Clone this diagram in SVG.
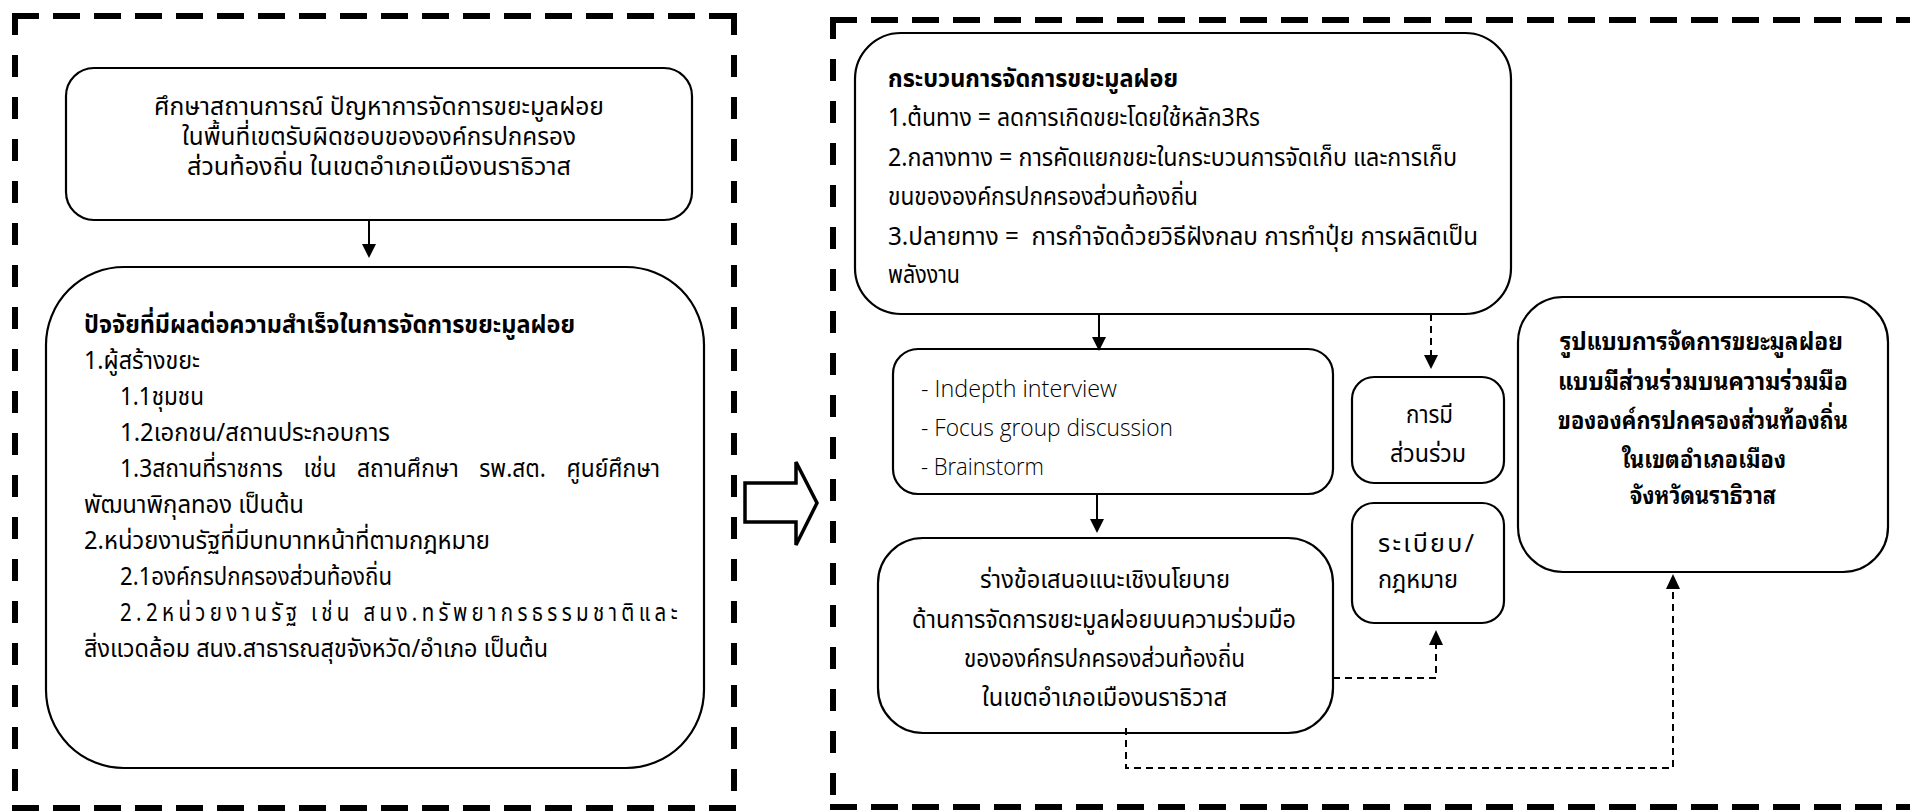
<svg xmlns="http://www.w3.org/2000/svg" width="1910" height="811" viewBox="0 0 1910 811">
<style>
.frameH{stroke:#000;stroke-width:6;fill:none;stroke-dasharray:27 14}
.frameV{stroke:#000;stroke-width:6;fill:none;stroke-dasharray:22 20}
.box{fill:#fff;stroke:#000;stroke-width:2.2}
.th{font-family:"Noto Sans Thai","Noto Sans Thai UI","Garuda","Loma","Noto Sans","DejaVu Sans",sans-serif;font-size:25px;fill:#000}
.thb{font-family:"Noto Sans Thai","Noto Sans Thai UI","Garuda","Loma","Noto Sans","DejaVu Sans",sans-serif;font-size:25px;font-weight:bold;fill:#000}
.thl{font-family:"Noto Sans Thai Looped","Noto Sans Thai","Loma","Garuda","Noto Sans",sans-serif;font-size:24px;font-weight:bold;fill:#000}
.en{font-family:"Open Sans","Noto Sans","Liberation Sans",sans-serif;font-size:23px;font-weight:300;fill:#000}
.solid{stroke:#000;stroke-width:2;fill:none}
.dash{stroke:#000;stroke-width:2;fill:none;stroke-dasharray:7 5}
.head{fill:#000}
</style>
<rect width="1910" height="811" fill="#fff"/>
<g id="frames">
<line class="frameH" x1="12" y1="16" x2="737" y2="16"/>
<line class="frameV" x1="15" y1="13" x2="15" y2="811"/>
<line class="frameV" x1="734" y1="13" x2="734" y2="811"/>
<line class="frameH" x1="12" y1="808" x2="737" y2="808"/>
<line class="frameH" x1="830" y1="20" x2="1910" y2="20"/>
<line class="frameV" x1="833" y1="17" x2="833" y2="811"/>
<line class="frameH" x1="830" y1="807" x2="1910" y2="807"/>
</g>
<g id="n1">
<rect class="box" x="66" y="68" width="626" height="152" rx="28"/>
<text class="th" x="154" y="115" textLength="450" lengthAdjust="spacingAndGlyphs">ศึกษาสถานการณ์ ปัญหาการจัดการขยะมูลฝอย</text>
<text class="th" x="182" y="145" textLength="394" lengthAdjust="spacingAndGlyphs">ในพื้นที่เขตรับผิดชอบขององค์กรปกครอง</text>
<text class="th" x="187" y="175" textLength="384" lengthAdjust="spacingAndGlyphs">ส่วนท้องถิ่น ในเขตอำเภอเมืองนราธิวาส</text>
</g>
<g id="n2">
<rect class="box" x="46" y="267" width="658" height="501" rx="78"/>
<text class="thb" x="84" y="333" textLength="491" lengthAdjust="spacingAndGlyphs">ปัจจัยที่มีผลต่อความสำเร็จในการจัดการขยะมูลฝอย</text>
<text class="th" x="84" y="369" textLength="116" lengthAdjust="spacingAndGlyphs">1.ผู้สร้างขยะ</text>
<text class="th" x="120" y="405" textLength="84" lengthAdjust="spacingAndGlyphs">1.1ชุมชน</text>
<text class="th" x="120" y="441" textLength="270" lengthAdjust="spacingAndGlyphs">1.2เอกชน/สถานประกอบการ</text>
<text class="th" x="120" y="477" textLength="540" lengthAdjust="spacingAndGlyphs" style="word-spacing:16px">1.3สถานที่ราชการ เช่น สถานศึกษา รพ.สต. ศูนย์ศึกษา</text>
<text class="th" x="84" y="513" textLength="220" lengthAdjust="spacingAndGlyphs">พัฒนาพิกุลทอง เป็นต้น</text>
<text class="th" x="84" y="549" textLength="406" lengthAdjust="spacingAndGlyphs">2.หน่วยงานรัฐที่มีบทบาทหน้าที่ตามกฎหมาย</text>
<text class="th" x="120" y="585" textLength="272" lengthAdjust="spacingAndGlyphs">2.1องค์กรปกครองส่วนท้องถิ่น</text>
<text class="th" transform="translate(120,621) scale(0.82,1)" x="0" y="0" textLength="680" lengthAdjust="spacing">2.2หน่วยงานรัฐ เช่น สนง.ทรัพยากรธรรมชาติและ</text>
<text class="th" x="84" y="657" textLength="464" lengthAdjust="spacingAndGlyphs">สิ่งแวดล้อม สนง.สาธารณสุขจังหวัด/อำเภอ เป็นต้น</text>
</g>
<g id="bigArrow">
<polygon points="745,483 796,483 796,462 817,503 796,545 796,522 745,522" fill="#fff" stroke="#000" stroke-width="3.5"/>
</g>
<g id="n3">
<rect class="box" x="855" y="33" width="656" height="281" rx="46"/>
<text class="thb" x="888" y="87" textLength="290" lengthAdjust="spacingAndGlyphs">กระบวนการจัดการขยะมูลฝอย</text>
<text class="th" x="888" y="126" textLength="372" lengthAdjust="spacingAndGlyphs">1.ต้นทาง = ลดการเกิดขยะโดยใช้หลัก3Rs</text>
<text class="th" x="888" y="166" textLength="569" lengthAdjust="spacingAndGlyphs">2.กลางทาง = การคัดแยกขยะในกระบวนการจัดเก็บ และการเก็บ</text>
<text class="th" x="888" y="205" textLength="310" lengthAdjust="spacingAndGlyphs">ขนขององค์กรปกครองส่วนท้องถิ่น</text>
<text class="th" x="888" y="245" textLength="590" lengthAdjust="spacingAndGlyphs" xml:space="preserve">3.ปลายทาง =  การกำจัดด้วยวิธีฝังกลบ การทำปุ๋ย การผลิตเป็น</text>
<text class="th" x="888" y="283" textLength="72" lengthAdjust="spacingAndGlyphs">พลังงาน</text>
</g>
<g id="n4">
<rect class="box" x="893" y="349" width="440" height="145" rx="25"/>
<text class="en" x="921" y="397" textLength="196" lengthAdjust="spacingAndGlyphs">- Indepth interview</text>
<text class="en" x="921" y="436" textLength="252" lengthAdjust="spacingAndGlyphs">- Focus group discussion</text>
<text class="en" x="921" y="475" textLength="123" lengthAdjust="spacingAndGlyphs">- Brainstorm</text>
</g>
<g id="n5">
<rect class="box" x="878" y="538" width="455" height="195" rx="45"/>
<text class="th" x="980" y="588" textLength="250" lengthAdjust="spacingAndGlyphs">ร่างข้อเสนอแนะเชิงนโยบาย</text>
<text class="th" x="912" y="628" textLength="384" lengthAdjust="spacingAndGlyphs">ด้านการจัดการขยะมูลฝอยบนความร่วมมือ</text>
<text class="th" x="964" y="667" textLength="281" lengthAdjust="spacingAndGlyphs">ขององค์กรปกครองส่วนท้องถิ่น</text>
<text class="th" x="982" y="706" textLength="245" lengthAdjust="spacingAndGlyphs">ในเขตอำเภอเมืองนราธิวาส</text>
</g>
<g id="n6">
<rect class="box" x="1352" y="377" width="152" height="106" rx="22"/>
<text class="th" x="1406" y="423" textLength="47" lengthAdjust="spacingAndGlyphs">การมี</text>
<text class="th" x="1390" y="462" textLength="76" lengthAdjust="spacingAndGlyphs">ส่วนร่วม</text>
</g>
<g id="n7">
<rect class="box" x="1352" y="503" width="152" height="120" rx="22"/>
<text class="th" x="1378" y="552" textLength="96" lengthAdjust="spacing">ระเบียบ/</text>
<text class="th" x="1378" y="588" textLength="80" lengthAdjust="spacingAndGlyphs">กฎหมาย</text>
</g>
<g id="n8">
<rect class="box" x="1518" y="297" width="370" height="275" rx="45"/>
<text class="thl" x="1560" y="350" textLength="283" lengthAdjust="spacingAndGlyphs">รูปแบบการจัดการขยะมูลฝอย</text>
<text class="thl" x="1558" y="390" textLength="290" lengthAdjust="spacingAndGlyphs">แบบมีส่วนร่วมบนความร่วมมือ</text>
<text class="thl" x="1558" y="429" textLength="290" lengthAdjust="spacingAndGlyphs">ขององค์กรปกครองส่วนท้องถิ่น</text>
<text class="thl" x="1622" y="468" textLength="164" lengthAdjust="spacingAndGlyphs">ในเขตอำเภอเมือง</text>
<text class="thl" x="1630" y="504" textLength="146" lengthAdjust="spacingAndGlyphs">จังหวัดนราธิวาส</text>
</g>
<g id="connectors">
<line class="solid" x1="369" y1="220" x2="369" y2="245"/>
<polygon class="head" points="362,244 376,244 369,258"/>
<line class="solid" x1="1099" y1="314" x2="1099" y2="338"/>
<polygon class="head" points="1092,337 1106,337 1099,351"/>
<line class="dash" x1="1431" y1="314" x2="1431" y2="356"/>
<polygon class="head" points="1424,355 1438,355 1431,369"/>
<line class="solid" x1="1097" y1="494" x2="1097" y2="520"/>
<polygon class="head" points="1090,519 1104,519 1097,533"/>
<polyline class="dash" points="1333,678 1436,678 1436,644"/>
<polygon class="head" points="1429,645 1443,645 1436,630"/>
<polyline class="dash" points="1126,728 1126,768 1673,768 1673,588"/>
<polygon class="head" points="1666,589 1680,589 1673,574"/>
</g>
</svg>
